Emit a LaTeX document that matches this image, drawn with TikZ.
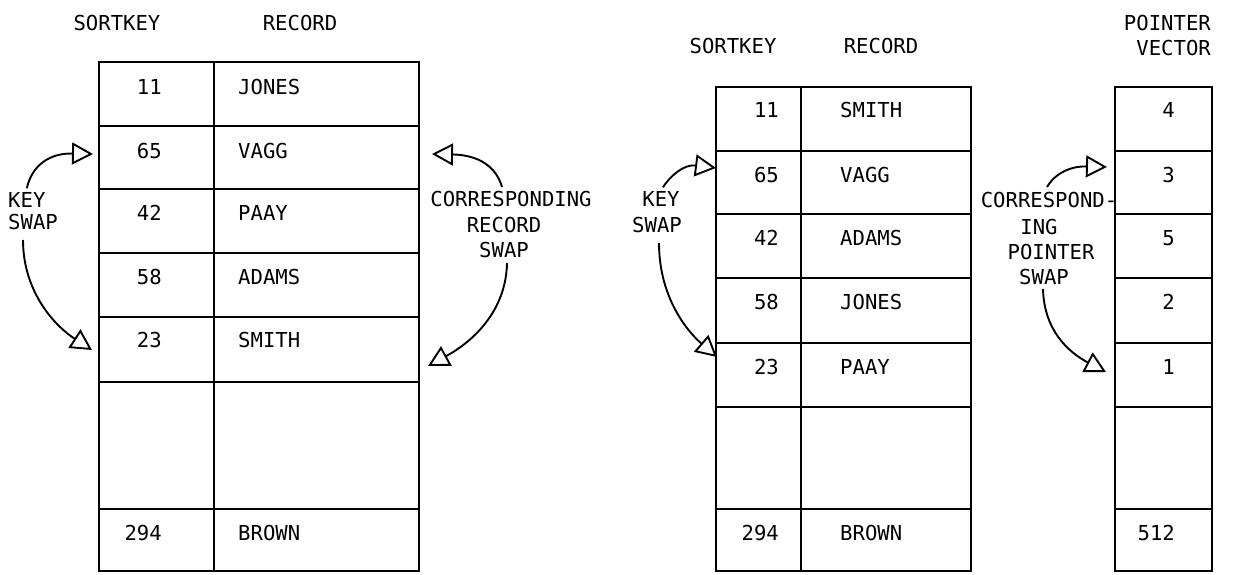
\documentclass[tikz,border=0pt]{standalone}
\usepackage{fontspec}
\newfontfamily\tfont{DejaVu Sans Mono}
\usetikzlibrary{arrows.meta,calc}
\begin{document}
\begin{tikzpicture}[x=1pt,y=-1pt,
  txt/.style={font=\tfont\fontsize{20.6pt}{25pt}\selectfont, inner sep=0pt},
  grid/.style={line width=2.4pt, line cap=rect},
  swaparrow/.style={line width=1.9pt, -{Triangle[length=21pt,width=22pt,fill=white]}}]
\useasboundingbox (0,0) rectangle (1253,574);

% ---------- left table ----------
\draw[grid] (99,62) rectangle (419,571);
\draw[grid] (214,62) -- (214,571);
\foreach \yy in {126,189,253,317,382,509} \draw[grid] (99,\yy) -- (419,\yy);

\node[txt,anchor=base] (hL1) at (117,30.5) {SORTKEY};
\node[txt,anchor=base] (hL2) at (300,30.5) {RECORD};

\node[txt,anchor=base east] (kL1) at (162,94.5) {11};
\node[txt,anchor=base east] (kL2) at (162,158.5) {65};
\node[txt,anchor=base east] (kL3) at (162,220.5) {42};
\node[txt,anchor=base east] (kL4) at (162,284.5) {58};
\node[txt,anchor=base east] (kL5) at (162,347.5) {23};
\node[txt,anchor=base east] (kL6) at (162,540.5) {294};
\node[txt,anchor=base west] (rL1) at (238,94.5) {JONES};
\node[txt,anchor=base west] (rL2) at (238,158.5) {VAGG};
\node[txt,anchor=base west] (rL3) at (238,220.5) {PAAY};
\node[txt,anchor=base west] (rL4) at (238,284.5) {ADAMS};
\node[txt,anchor=base west] (rL5) at (238,347.5) {SMITH};
\node[txt,anchor=base west] (rL6) at (238,540.5) {BROWN};

% ---------- right table ----------
\draw[grid] (716,87) rectangle (971,571);
\draw[grid] (801,87) -- (801,571);
\foreach \yy in {151,214,278,343,407,509} \draw[grid] (716,\yy) -- (971,\yy);

\node[txt,anchor=base] (hR1) at (733,53.5) {SORTKEY};
\node[txt,anchor=base] (hR2) at (881,53.5) {RECORD};

\node[txt,anchor=base east] (kR1) at (779,117.5) {11};
\node[txt,anchor=base east] (kR2) at (779,182.5) {65};
\node[txt,anchor=base east] (kR3) at (779,245.5) {42};
\node[txt,anchor=base east] (kR4) at (779,309.5) {58};
\node[txt,anchor=base east] (kR5) at (779,374.5) {23};
\node[txt,anchor=base east] (kR6) at (779,540.5) {294};
\node[txt,anchor=base west] (rR1) at (840,117.5) {SMITH};
\node[txt,anchor=base west] (rR2) at (840,182.5) {VAGG};
\node[txt,anchor=base west] (rR3) at (840,245.5) {ADAMS};
\node[txt,anchor=base west] (rR4) at (840,309.5) {JONES};
\node[txt,anchor=base west] (rR5) at (840,374.5) {PAAY};
\node[txt,anchor=base west] (rR6) at (840,540.5) {BROWN};

% ---------- pointer vector ----------
\draw[grid] (1115,87) rectangle (1212,571);
\foreach \yy in {151,214,278,343,407,509} \draw[grid] (1115,\yy) -- (1212,\yy);

\node[txt,anchor=base east] (hP1) at (1211,30.5) {POINTER};
\node[txt,anchor=base east] (hP2) at (1211,55.5) {VECTOR};

\node[txt,anchor=base east] (p1) at (1175,117.5) {4};
\node[txt,anchor=base east] (p2) at (1175,182.5) {3};
\node[txt,anchor=base east] (p3) at (1175,245.5) {5};
\node[txt,anchor=base east] (p4) at (1175,309.5) {2};
\node[txt,anchor=base east] (p5) at (1175,374.5) {1};
\node[txt,anchor=base east] (p6) at (1175,540.5) {512};

% ---------- labels ----------
\node[txt,anchor=base west] (ksL1) at (8,207.5) {KEY};
\node[txt,anchor=base west] (ksL2) at (8,229.5) {SWAP};

\node[txt,anchor=base] (crs1) at (511,206.5) {CORRESPONDING};
\node[txt,anchor=base] (crs2) at (504,232.5) {RECORD};
\node[txt,anchor=base] (crs3) at (504,257.5) {SWAP};

\node[txt,anchor=base] (ksR1) at (661,206.5) {KEY};
\node[txt,anchor=base] (ksR2) at (657,232.5) {SWAP};

\node[txt,anchor=base] (pv1) at (1049,207.5) {CORRESPOND-};
\node[txt,anchor=base] (pv2) at (1039,234.5) {ING};
\node[txt,anchor=base] (pv3) at (1051,259.5) {POINTER};
\node[txt,anchor=base] (pv4) at (1044,284.5) {SWAP};

% ---------- arrow tips ----------
\coordinate (tL1) at (93,154);
\coordinate (tL2) at (92,350);
\coordinate (tC1) at (432,154);
\coordinate (tC2) at (428,366);
\coordinate (tR1) at (716,168);
\coordinate (tR2) at (717,357);
\coordinate (tP1) at (1107,167);
\coordinate (tP2) at (1106,372);

% ---------- arrows ----------
\draw[swaparrow] ($(ksL1.north)+(0,-4)$) .. controls (32,165) and (50,153) .. (tL1);
\draw[swaparrow] ($(ksL2.south)+(-10,10)$) .. controls (23,292) and (55,326) .. (tL2);

\draw[swaparrow] ($(crs1.north)+(-9,-4)$) .. controls (496,166) and (478,155) .. (tC1);
\draw[swaparrow] ($(crs3.south)+(3,5)$) .. controls (506,312) and (472,342) .. (tC2);

\draw[swaparrow] ($(ksR1.north)+(2,-4)$) .. controls (670,176) and (684,164) .. (tR1);
\draw[swaparrow] ($(ksR2.south)+(2,10)$) .. controls (659,298) and (688,332) .. (tR2);

\draw[swaparrow] ($(pv1.north)+(-2,-5)$) .. controls (1056,172) and (1072,166) .. (tP1);
\draw[swaparrow] ($(pv4.south)+(-1,4)$) .. controls (1044,330) and (1068,352) .. (tP2);
\end{tikzpicture}
\end{document}
